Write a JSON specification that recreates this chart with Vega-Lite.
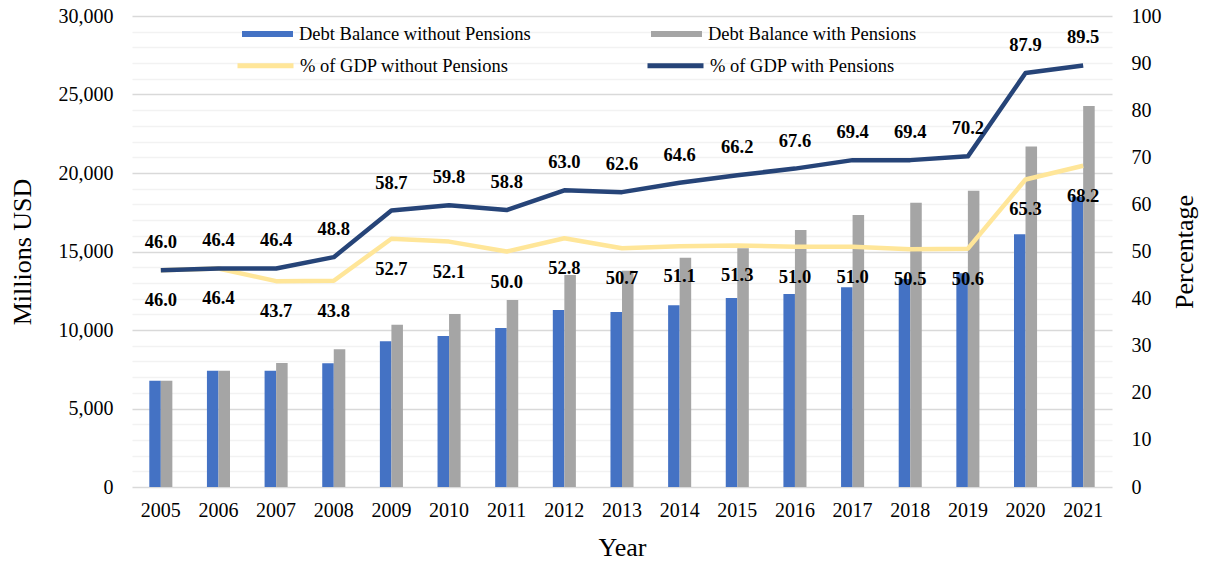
{
  "$schema": "https://vega.github.io/schema/vega-lite/v6.json",
  "width": 980,
  "height": 471,
  "autosize": {"type": "none"},
  "padding": {"left": 132, "top": 16, "right": 105, "bottom": 75},
  "background": "white",
  "config": {
    "view": {"stroke": null},
    "font": "Liberation Serif",
    "axis": {"labelFont": "Liberation Serif", "titleFont": "Liberation Serif", "labelColor": "#000000", "titleColor": "#000000", "titleFontWeight": "normal"}
  },
  "datasets": {
    "debt": [
      {"Year": "2005", "Series": "Debt Balance without Pensions", "Value": 6770},
      {"Year": "2005", "Series": "Debt Balance with Pensions", "Value": 6770},
      {"Year": "2006", "Series": "Debt Balance without Pensions", "Value": 7410},
      {"Year": "2006", "Series": "Debt Balance with Pensions", "Value": 7410},
      {"Year": "2007", "Series": "Debt Balance without Pensions", "Value": 7400},
      {"Year": "2007", "Series": "Debt Balance with Pensions", "Value": 7900},
      {"Year": "2008", "Series": "Debt Balance without Pensions", "Value": 7880},
      {"Year": "2008", "Series": "Debt Balance with Pensions", "Value": 8770},
      {"Year": "2009", "Series": "Debt Balance without Pensions", "Value": 9280},
      {"Year": "2009", "Series": "Debt Balance with Pensions", "Value": 10340},
      {"Year": "2010", "Series": "Debt Balance without Pensions", "Value": 9620},
      {"Year": "2010", "Series": "Debt Balance with Pensions", "Value": 11020},
      {"Year": "2011", "Series": "Debt Balance without Pensions", "Value": 10130},
      {"Year": "2011", "Series": "Debt Balance with Pensions", "Value": 11910},
      {"Year": "2012", "Series": "Debt Balance without Pensions", "Value": 11270},
      {"Year": "2012", "Series": "Debt Balance with Pensions", "Value": 13500},
      {"Year": "2013", "Series": "Debt Balance without Pensions", "Value": 11150},
      {"Year": "2013", "Series": "Debt Balance with Pensions", "Value": 13780},
      {"Year": "2014", "Series": "Debt Balance without Pensions", "Value": 11570},
      {"Year": "2014", "Series": "Debt Balance with Pensions", "Value": 14600},
      {"Year": "2015", "Series": "Debt Balance without Pensions", "Value": 12040},
      {"Year": "2015", "Series": "Debt Balance with Pensions", "Value": 15200},
      {"Year": "2016", "Series": "Debt Balance without Pensions", "Value": 12290},
      {"Year": "2016", "Series": "Debt Balance with Pensions", "Value": 16370},
      {"Year": "2017", "Series": "Debt Balance without Pensions", "Value": 12720},
      {"Year": "2017", "Series": "Debt Balance with Pensions", "Value": 17320},
      {"Year": "2018", "Series": "Debt Balance without Pensions", "Value": 13250},
      {"Year": "2018", "Series": "Debt Balance with Pensions", "Value": 18110},
      {"Year": "2019", "Series": "Debt Balance without Pensions", "Value": 13610},
      {"Year": "2019", "Series": "Debt Balance with Pensions", "Value": 18870},
      {"Year": "2020", "Series": "Debt Balance without Pensions", "Value": 16100},
      {"Year": "2020", "Series": "Debt Balance with Pensions", "Value": 21680},
      {"Year": "2021", "Series": "Debt Balance without Pensions", "Value": 18490},
      {"Year": "2021", "Series": "Debt Balance with Pensions", "Value": 24270}
    ],
    "pct": [
      {"Year": "2005", "Series": "% of GDP without Pensions", "Pct": 46.0},
      {"Year": "2006", "Series": "% of GDP without Pensions", "Pct": 46.4},
      {"Year": "2007", "Series": "% of GDP without Pensions", "Pct": 43.7},
      {"Year": "2008", "Series": "% of GDP without Pensions", "Pct": 43.8},
      {"Year": "2009", "Series": "% of GDP without Pensions", "Pct": 52.7},
      {"Year": "2010", "Series": "% of GDP without Pensions", "Pct": 52.1},
      {"Year": "2011", "Series": "% of GDP without Pensions", "Pct": 50.0},
      {"Year": "2012", "Series": "% of GDP without Pensions", "Pct": 52.8},
      {"Year": "2013", "Series": "% of GDP without Pensions", "Pct": 50.7},
      {"Year": "2014", "Series": "% of GDP without Pensions", "Pct": 51.1},
      {"Year": "2015", "Series": "% of GDP without Pensions", "Pct": 51.3},
      {"Year": "2016", "Series": "% of GDP without Pensions", "Pct": 51.0},
      {"Year": "2017", "Series": "% of GDP without Pensions", "Pct": 51.0},
      {"Year": "2018", "Series": "% of GDP without Pensions", "Pct": 50.5},
      {"Year": "2019", "Series": "% of GDP without Pensions", "Pct": 50.6},
      {"Year": "2020", "Series": "% of GDP without Pensions", "Pct": 65.3},
      {"Year": "2021", "Series": "% of GDP without Pensions", "Pct": 68.2},
      {"Year": "2005", "Series": "% of GDP with Pensions", "Pct": 46.0},
      {"Year": "2006", "Series": "% of GDP with Pensions", "Pct": 46.4},
      {"Year": "2007", "Series": "% of GDP with Pensions", "Pct": 46.4},
      {"Year": "2008", "Series": "% of GDP with Pensions", "Pct": 48.8},
      {"Year": "2009", "Series": "% of GDP with Pensions", "Pct": 58.7},
      {"Year": "2010", "Series": "% of GDP with Pensions", "Pct": 59.8},
      {"Year": "2011", "Series": "% of GDP with Pensions", "Pct": 58.8},
      {"Year": "2012", "Series": "% of GDP with Pensions", "Pct": 63.0},
      {"Year": "2013", "Series": "% of GDP with Pensions", "Pct": 62.6},
      {"Year": "2014", "Series": "% of GDP with Pensions", "Pct": 64.6},
      {"Year": "2015", "Series": "% of GDP with Pensions", "Pct": 66.2},
      {"Year": "2016", "Series": "% of GDP with Pensions", "Pct": 67.6},
      {"Year": "2017", "Series": "% of GDP with Pensions", "Pct": 69.4},
      {"Year": "2018", "Series": "% of GDP with Pensions", "Pct": 69.4},
      {"Year": "2019", "Series": "% of GDP with Pensions", "Pct": 70.2},
      {"Year": "2020", "Series": "% of GDP with Pensions", "Pct": 87.9},
      {"Year": "2021", "Series": "% of GDP with Pensions", "Pct": 89.5}
    ]
  },
  "encoding": {
    "x": {
      "field": "Year", "type": "nominal",
      "scale": {"paddingInner": 0.6, "paddingOuter": 0.3},
      "axis": {
        "title": "Year", "titleFontSize": 26, "titlePadding": 14,
        "labelFontSize": 20, "labelAngle": 0, "labelPadding": 13,
        "ticks": false, "domain": false, "grid": false
      }
    }
  },
  "layer": [
    {
      "data": {"name": "debt"},
      "mark": {"type": "bar"},
      "encoding": {
        "xOffset": {"field": "Series", "type": "nominal", "sort": ["Debt Balance without Pensions", "Debt Balance with Pensions"], "scale": {"paddingInner": 0, "paddingOuter": 0}},
        "y": {
          "field": "Value", "type": "quantitative",
          "scale": {"domain": [0, 30000], "nice": false},
          "axis": {
            "title": "Millions USD", "titleFontSize": 26, "titlePadding": 23,
            "values": [0,1000,2000,3000,4000,5000,6000,7000,8000,9000,10000,11000,12000,13000,14000,15000,16000,17000,18000,19000,20000,21000,22000,23000,24000,25000,26000,27000,28000,29000,30000],
            "labelExpr": "datum.value % 5000 === 0 ? format(datum.value, ',') : ''",
            "labelFontSize": 20, "labelPadding": 19, "labelOverlap": false,
            "ticks": false, "tickSize": 0, "domain": false,
            "grid": true,
            "gridColor": {"condition": {"test": "datum.value % 5000 === 0", "value": "#D9D9D9"}, "value": "#F2F2F2"},
            "gridWidth": 1.5
          }
        },
        "color": {
          "field": "Series", "type": "nominal",
          "scale": {"domain": ["Debt Balance without Pensions", "Debt Balance with Pensions"], "range": ["#4472C4", "#A5A5A5"]},
          "legend": {
            "title": null, "orient": "none", "legendX": 110, "legendY": -7.5,
            "direction": "horizontal", "columns": 2, "columnPadding": 120,
            "symbolType": "M-1,-0.12L1,-0.12L1,0.12L-1,0.12Z", "symbolSize": 2601, "symbolStrokeWidth": 0,
            "labelFont": "Liberation Serif", "labelFontSize": 18.5, "labelColor": "#000000", "labelOffset": 6,
            "padding": 0, "labelLimit": 400
          }
        }
      }
    },
    {
      "data": {"name": "pct"},
      "encoding": {
        "y": {
          "field": "Pct", "type": "quantitative",
          "scale": {"domain": [0, 100], "nice": false},
          "axis": {
            "orient": "right", "title": "Percentage", "titleFontSize": 26, "titlePadding": 36, "titleAngle": 270,
            "values": [0,10,20,30,40,50,60,70,80,90,100],
            "labelFontSize": 20, "labelPadding": 19, "ticks": false, "tickSize": 0, "domain": false, "grid": false
          }
        }
      },
      "layer": [
        {
          "mark": {"type": "line", "strokeWidth": 4.5, "strokeJoin": "round", "strokeCap": "butt"},
          "encoding": {
            "stroke": {
              "field": "Series", "type": "nominal",
              "scale": {"domain": ["% of GDP without Pensions", "% of GDP with Pensions"], "range": ["#FFE699", "#264478"]},
              "legend": {
                "title": null, "orient": "none", "legendX": 103, "legendY": 19,
                "direction": "horizontal", "columns": 2, "columnPadding": 128,
                "symbolType": "M-1,0L1,0", "symbolSize": 3136, "symbolStrokeWidth": 5,
                "labelFont": "Liberation Serif", "labelFontSize": 18.5, "labelColor": "#000000", "labelOffset": 4,
                "padding": 0, "labelLimit": 400
              }
            }
          }
        },
        {
          "transform": [{"filter": "datum.Series === '% of GDP with Pensions'"}],
          "mark": {"type": "text", "dy": -28, "fontSize": 18.5, "fontWeight": "bold", "font": "Liberation Serif, Times New Roman, serif", "color": "#000000"},
          "encoding": {
            "text": {"field": "Pct", "type": "quantitative", "format": ".1f"}
          }
        },
        {
          "transform": [{"filter": "datum.Series === '% of GDP without Pensions'"}],
          "mark": {"type": "text", "dy": 30, "fontSize": 18.5, "fontWeight": "bold", "font": "Liberation Serif, Times New Roman, serif", "color": "#000000"},
          "encoding": {
            "text": {"field": "Pct", "type": "quantitative", "format": ".1f"}
          }
        }
      ]
    }
  ],
  "resolve": {"scale": {"y": "independent"}}
}
